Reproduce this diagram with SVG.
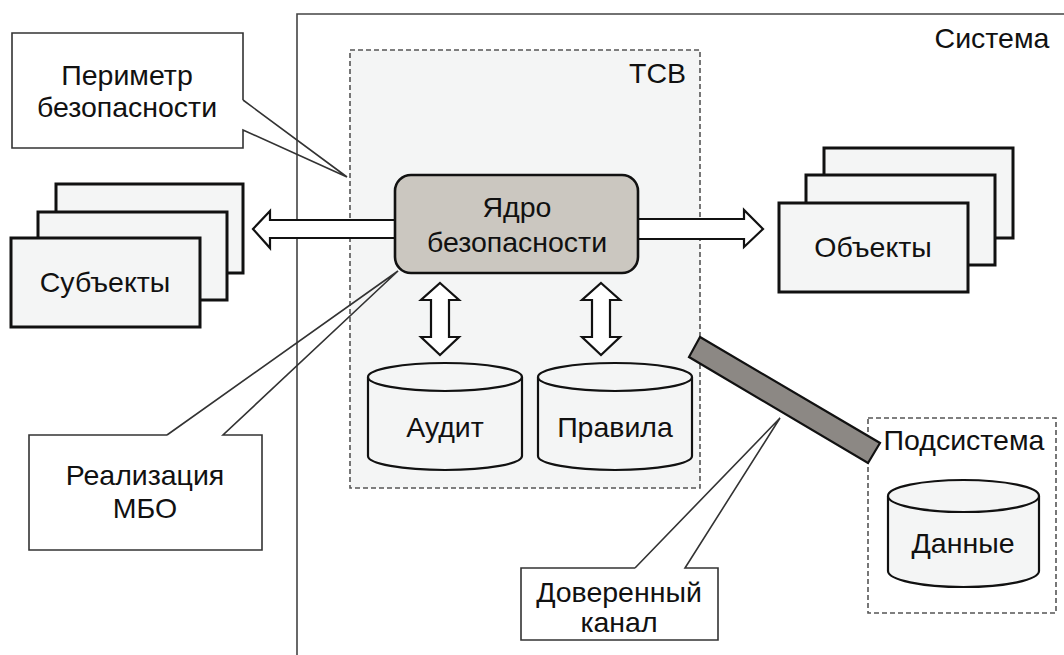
<svg xmlns="http://www.w3.org/2000/svg" width="1064" height="655" viewBox="0 0 1064 655">
<style>
text{font-family:"Liberation Sans",Arial,sans-serif;font-size:28.5px;fill:#111;text-anchor:middle}
.card{fill:#f4f5f5;stroke:#111;stroke-width:3}
.dash{fill:none;stroke:#555;stroke-width:1.6;stroke-dasharray:5,3}
.arrow{fill:#fff;stroke:#111;stroke-width:2.2;stroke-linejoin:miter}
.cyl{fill:#f4f5f5;stroke:#111;stroke-width:2.2}
.callbg{fill:#fff;stroke:none}
.callout{fill:none;stroke:#333;stroke-width:1.6;stroke-linejoin:miter}
</style>
<rect width="1064" height="655" fill="#fff"/>
<g id="system">
<path d="M297,655 V14 H1064" fill="none" stroke="#444" stroke-width="1.6"/>
<text x="992" y="48" font-size="27">Система</text>
</g>
<g id="tcb">
<rect x="350" y="50" width="350" height="438" fill="#f4f5f5"/>
<rect x="350" y="50" width="350" height="438" class="dash"/>
<text x="686" y="83" style="text-anchor:end">TCB</text>
</g>
<g id="subsystem">
<rect x="868" y="418" width="188" height="195" class="dash"/>
<text x="964" y="450">Подсистема</text>
</g>
<g id="subjects">
<rect x="56" y="184" width="187" height="89" class="card"/>
<rect x="38" y="212" width="189" height="88" class="card"/>
<rect x="11" y="238" width="189" height="89" class="card"/>
<text x="105" y="292">Субъекты</text>
</g>
<g id="objects">
<rect x="824" y="148" width="189" height="90" class="card"/>
<rect x="806" y="175" width="189" height="90" class="card"/>
<rect x="779" y="203" width="189" height="89" class="card"/>
<text x="873" y="257">Объекты</text>
</g>
<g id="connectors">
<polygon class="arrow" points="253,229 270,211 270,220 400,220 400,238 270,238 270,248"/>
<polygon class="arrow" points="763,229 744,210 744,219 634,219 634,239 744,239 744,247"/>
<polygon class="arrow" points="440,283 459,300 449,300 449,337 459,337 440,355 421,337 431,337 431,300 421,300"/>
<polygon class="arrow" points="601,283 620,300 610,300 610,337 620,337 601,355 582,337 592,337 592,300 582,300"/>
<polygon id="channel" points="700,337 880,443 868,463 689,357" fill="#8c8884" stroke="#111" stroke-width="2.2"/>
</g>
<g id="kernel">
<rect x="395" y="175" width="243" height="98" rx="16" fill="#cbc7c0" stroke="#111" stroke-width="2.6"/>
<text x="517" y="217">Ядро</text>
<text x="517" y="252">безопасности</text>
</g>
<g id="audit">
<path class="cyl" d="M368,377 V456 A77,14 0 0 0 522,456 V377 A77,14 0 0 0 368,377 Z"/>
<path class="cyl" fill="none" d="M368,377 A77,14 0 0 0 522,377"/>
<text x="445" y="437">Аудит</text>
</g>
<g id="rules">
<path class="cyl" d="M538,377 V456 A77,14 0 0 0 692,456 V377 A77,14 0 0 0 538,377 Z"/>
<path class="cyl" fill="none" d="M538,377 A77,14 0 0 0 692,377"/>
<text x="615" y="437">Правила</text>
</g>
<g id="data">
<path class="cyl" d="M888,496 V571 A75.5,16 0 0 0 1039,571 V496 A75.5,16 0 0 0 888,496 Z"/>
<path class="cyl" fill="none" d="M888,496 A75.5,16 0 0 0 1039,496"/>
<text x="963" y="553">Данные</text>
</g>
<g id="callout-perimeter">
<rect class="callbg" x="12" y="33" width="231" height="115"/>
<path class="callout" d="M243,100 V33 H12 V148 H243 V130 L347,177 L243,100"/>
<text x="127" y="85">Периметр</text>
<text x="127" y="117">безопасности</text>
</g>
<g id="callout-mbo">
<rect class="callbg" x="29" y="435" width="233" height="115"/>
<path class="callout" d="M167,435 H29 V550 H262 V435 H223 L398,271 L167,435"/>
<text x="145" y="485">Реализация</text>
<text x="145" y="518">МБО</text>
</g>
<g id="callout-channel">
<rect class="callbg" x="521" y="568" width="197" height="72"/>
<path class="callout" d="M635,568 H521 V640 H718 V568 H685 L780,418 L635,568"/>
<text x="619" y="602">Доверенный</text>
<text x="619" y="632">канал</text>
</g>
</svg>
